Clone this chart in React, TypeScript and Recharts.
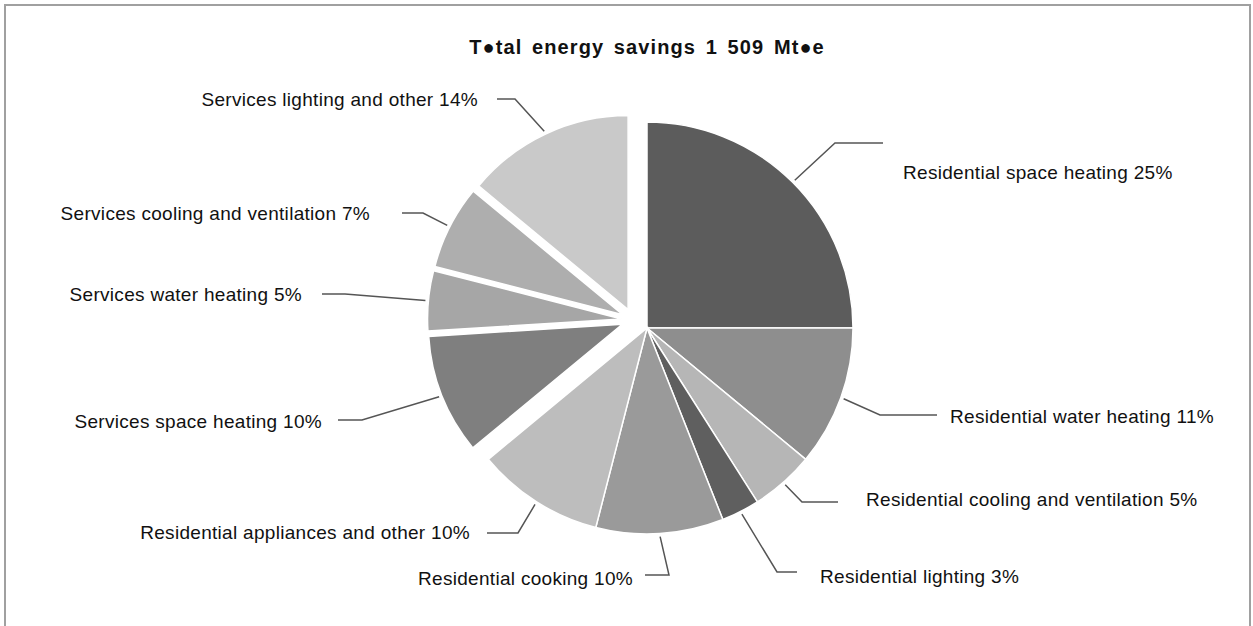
import { PieChart, Pie, Sector } from 'recharts';

const categories = [
  'Residential space heating',
  'Residential water heating',
  'Residential cooling and ventilation',
  'Residential lighting',
  'Residential cooking',
  'Residential appliances and other',
  'Services space heating',
  'Services water heating',
  'Services cooling and ventilation',
  'Services lighting and other',
];
const sectors = [
  'Residential', 'Residential', 'Residential', 'Residential', 'Residential',
  'Residential', 'Services', 'Services', 'Services', 'Services',
];
const shares = [25, 11, 5, 3, 10, 10, 10, 5, 7, 14];
const fills = [
  '#5c5c5c', '#8e8e8e', '#b6b6b6', '#5f5f5f', '#9a9a9a',
  '#bdbdbd', '#7f7f7f', '#a6a6a6', '#aeaeae', '#c9c9c9',
];
const title = 'T\u25CFtal energy savings 1 509 Mt\u25CFe';

// leader elbow, line end, text anchor point for each label (page px)
const labelLayout: Record<string, { ex: number; ey: number; lx: number; tx: number; ty: number; anchor: 'start' | 'end' }> = {
  'Residential space heating': { ex: 835, ey: 143, lx: 883, tx: 903, ty: 172, anchor: 'start' },
  'Residential water heating': { ex: 880, ey: 415, lx: 937, tx: 950, ty: 416, anchor: 'start' },
  'Residential cooling and ventilation': { ex: 802, ey: 502, lx: 838, tx: 866, ty: 499, anchor: 'start' },
  'Residential lighting': { ex: 777, ey: 572, lx: 797, tx: 820, ty: 576, anchor: 'start' },
  'Residential cooking': { ex: 669, ey: 575, lx: 645, tx: 633, ty: 578, anchor: 'end' },
  'Residential appliances and other': { ex: 518, ey: 533, lx: 487, tx: 470, ty: 532, anchor: 'end' },
  'Services space heating': { ex: 362, ey: 420, lx: 338, tx: 322, ty: 421, anchor: 'end' },
  'Services water heating': { ex: 345, ey: 294, lx: 322, tx: 302, ty: 294, anchor: 'end' },
  'Services cooling and ventilation': { ex: 423, ey: 213, lx: 402, tx: 370, ty: 213, anchor: 'end' },
  'Services lighting and other': { ex: 515, ey: 99, lx: 497, tx: 478, ty: 99, anchor: 'end' },
};

const data = categories.map((name, i) => ({ name, value: shares[i], sector: sectors[i], fill: fills[i] }));

const RAD = Math.PI / 180;
const OUTER = 206;
const SERVICES_OUTER = 194;
const GROUP_SHIFT = { x: -14, y: -8 };
const EXPLODE = 11.5;

function sliceCenter(cx: number, cy: number, midAngle: number, sector: string) {
  if (sector !== 'Services') return { x: cx, y: cy, r: OUTER };
  return {
    x: cx + GROUP_SHIFT.x + EXPLODE * Math.cos(-midAngle * RAD),
    y: cy + GROUP_SHIFT.y + EXPLODE * Math.sin(-midAngle * RAD),
    r: SERVICES_OUTER,
  };
}

function SliceShape(props: any) {
  const sector = props.payload?.sector ?? props.sector;
  const c = sliceCenter(props.cx, props.cy, props.midAngle, sector);
  return <Sector {...props} cx={c.x} cy={c.y} outerRadius={c.r} />;
}

function renderLabel(props: any) {
  const { cx, cy, midAngle, name, value } = props;
  const sector = props.payload?.sector ?? props.sector;
  const lay = labelLayout[name];
  if (!lay) return null;
  const c = sliceCenter(cx, cy, midAngle, sector);
  const sx = c.x + (c.r + 3) * Math.cos(-midAngle * RAD);
  const sy = c.y + (c.r + 3) * Math.sin(-midAngle * RAD);
  return (
    <g>
      <polyline
        points={`${sx},${sy} ${lay.ex},${lay.ey} ${lay.lx},${lay.ey}`}
        fill="none"
        stroke="#555"
        strokeWidth={1.5}
      />
      <text
        x={lay.tx}
        y={lay.ty}
        textAnchor={lay.anchor}
        dominantBaseline="central"
        fill="#111"
        fontSize={19}
        letterSpacing={0.3}
        fontFamily="'Liberation Sans', Arial, sans-serif"
      >
        {`${name} ${value}%`}
      </text>
    </g>
  );
}

export default function App() {
  return (
    <div
      style={{
        position: 'absolute',
        left: 0,
        top: 0,
        width: 1253,
        height: 626,
        overflow: 'hidden',
        background: '#fff',
        fontFamily: "'Liberation Sans', Arial, sans-serif",
      }}
    >
      <div
        style={{
          position: 'absolute',
          left: 4,
          top: 4,
          width: 1243,
          height: 660,
          border: '2px solid #a0a0a0',
        }}
      />
      <div
        style={{
          position: 'absolute',
          left: 647,
          top: 36,
          transform: 'translateX(-50%)',
          whiteSpace: 'nowrap',
          fontSize: 20,
          lineHeight: '22px',
          fontWeight: 'bold',
          letterSpacing: 1.1,
          wordSpacing: 3,
          color: '#111',
        }}
      >
        {title}
      </div>
      <div style={{ position: 'absolute', left: 0, top: 0 }}>
        <PieChart width={1253} height={626} margin={{ top: 0, right: 0, bottom: 0, left: 0 }}>
          <Pie
            data={data}
            dataKey="value"
            nameKey="name"
            cx={647}
            cy={328}
            outerRadius={OUTER}
            startAngle={90}
            endAngle={-270}
            stroke="#fff"
            strokeWidth={1.5}
            inactiveShape={SliceShape}
            activeShape={SliceShape}
            shape={SliceShape}
            label={renderLabel}
            labelLine={false}
            isAnimationActive={false}
          />
        </PieChart>
      </div>
    </div>
  );
}
